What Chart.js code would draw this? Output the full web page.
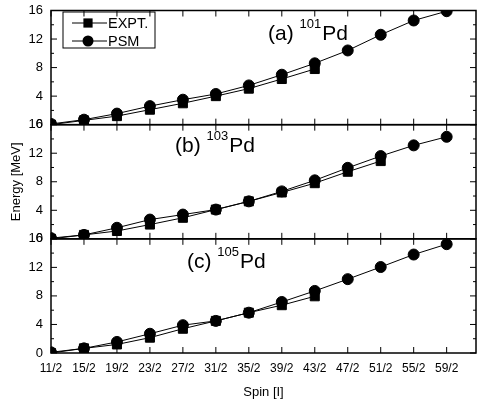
<!DOCTYPE html>
<html>
<head>
<meta charset="utf-8">
<script src="https://cdn.jsdelivr.net/npm/chart.js@4.4.1/dist/chart.umd.min.js"></script>
<style>
  html, body { margin: 0; padding: 0; background: #fff; }
  #wrap { width: 478px; height: 400px; }
</style>
</head>
<body>
<div id="wrap"><canvas id="chart"></canvas></div>
<script>
// spin values on the x axis
const spinLabels = ['11/2', '15/2', '19/2', '23/2', '27/2', '31/2', '35/2',
  '39/2', '43/2', '47/2', '51/2', '55/2', '59/2'];

// energies in MeV
const exptA = [0, 0.6, 1.2, 2.1, 3.0, 4.0, 5.05, 6.4, 7.8];
const psmA = [0.1, 0.7, 1.55, 2.6, 3.5, 4.3, 5.5, 7.0, 8.6, 10.4, 12.6, 14.6, 15.9];
const exptB = [0, 0.55, 1.1, 2.0, 2.95, 4.1, 5.25, 6.5, 7.8, 9.4, 10.9];
const psmB = [0.1, 0.55, 1.55, 2.7, 3.4, 4.1, 5.25, 6.65, 8.2, 9.95, 11.6, 13.1, 14.3];
const exptC = [0, 0.65, 1.2, 2.15, 3.4, 4.5, 5.65, 6.7, 7.95];
const psmC = [0.1, 0.65, 1.55, 2.7, 3.9, 4.5, 5.65, 7.15, 8.7, 10.35, 12.05, 13.8, 15.25];

const energyTicks = [0, 4, 8, 12, 16];

const FONT = '"Liberation Sans", Arial, sans-serif';

// panel captions: letter, mass number, text position inside the panel
const panels = [
  { axis: 'ya', tag: '(a) ', mass: '101', dx: 217, base: 29.5 },
  { axis: 'yb', tag: '(b) ', mass: '103', dx: 124, base: 27.5 },
  { axis: 'yc', tag: '(c) ', mass: '105', dx: 136, base: 29 }
];

const toPts = arr => arr.map((v, i) => ({ x: i, y: v }));

const exptStyle = { pointStyle: 'rect', pointRadius: 6.4, borderColor: '#000', backgroundColor: '#000', borderWidth: 1, pointBorderWidth: 1 };
const psmStyle = { pointStyle: 'circle', pointRadius: 5.5, borderColor: '#000', backgroundColor: '#000', borderWidth: 1, pointBorderWidth: 1 };

// frames, inward ticks, captions and legend box
const framePlugin = {
  id: 'frames',
  afterDatasetsDraw(chart) {
    const { ctx, chartArea, scales } = chart;
    const xs = scales.x;
    const L = chartArea.left, R = chartArea.right;
    ctx.save();
    ctx.strokeStyle = '#000';
    ctx.fillStyle = '#000';
    panels.forEach(p => {
      const ys = scales[p.axis];
      ctx.lineWidth = 1.5;
      ctx.strokeRect(L, ys.top, R - L, ys.bottom - ys.top);
      ctx.lineWidth = 1;
      ctx.beginPath();
      for (let v = 0; v <= 16; v += 2) {
        const py = ys.getPixelForValue(v);
        const len = v % 4 === 0 ? 6 : 3;
        ctx.moveTo(L, py); ctx.lineTo(L + len, py);
        ctx.moveTo(R, py); ctx.lineTo(R - len, py);
      }
      spinLabels.forEach((s, i) => {
        const px = xs.getPixelForValue(i);
        ctx.moveTo(px, ys.top); ctx.lineTo(px, ys.top + 6);
        ctx.moveTo(px, ys.bottom); ctx.lineTo(px, ys.bottom - 6);
      });
      ctx.stroke();

      // caption like "(a) 101Pd"
      let tx = L + p.dx;
      const by = ys.top + p.base;
      ctx.textBaseline = 'alphabetic';
      ctx.textAlign = 'left';
      ctx.font = '21px ' + FONT;
      ctx.fillText(p.tag, tx, by);
      tx += ctx.measureText(p.tag).width;
      ctx.font = '13px ' + FONT;
      ctx.fillText(p.mass, tx, by - 12);
      tx += ctx.measureText(p.mass).width + 1;
      ctx.font = '21px ' + FONT;
      ctx.fillText('Pd', tx, by);
    });

    // legend box in the top panel
    const top = scales.ya.top;
    const bx = L + 12, bt = top + 1.5;
    ctx.lineWidth = 1;
    ctx.strokeRect(bx, bt, 92, 36);
    const rows = [
      { text: 'EXPT.', style: 'rect', y: bt + 11 },
      { text: 'PSM', style: 'circle', y: bt + 29 }
    ];
    ctx.font = '14.5px ' + FONT;
    ctx.textBaseline = 'middle';
    rows.forEach(r => {
      ctx.beginPath();
      ctx.moveTo(bx + 9, r.y); ctx.lineTo(bx + 44, r.y);
      ctx.stroke();
      const cx = bx + 25;
      if (r.style === 'rect') {
        ctx.fillRect(cx - 4.6, r.y - 4.6, 9.2, 9.2);
      } else {
        ctx.beginPath();
        ctx.arc(cx, r.y, 5.5, 0, Math.PI * 2);
        ctx.fill();
      }
      ctx.fillText(r.text, bx + 45, r.y + 1);
    });
    ctx.restore();
  }
};

const yAxis = (extra) => Object.assign({
  type: 'linear',
  position: 'left',
  stack: 'energy',
  min: 0,
  max: 16,
  afterBuildTicks: s => { s.ticks = energyTicks.map(v => ({ value: v })); },
  afterFit: s => { s.paddingTop = 0; s.paddingBottom = 0; s.width = 46; },
  grid: { display: false, drawTicks: false },
  border: { display: false },
  ticks: { color: '#000', padding: 8, autoSkip: false, font: { family: FONT, size: 13 } }
}, extra);

new Chart(document.getElementById('chart'), {
  type: 'line',
  data: {
    datasets: [
      Object.assign({ label: 'EXPT.', data: toPts(exptA), yAxisID: 'ya' }, exptStyle),
      Object.assign({ label: 'PSM', data: toPts(psmA), yAxisID: 'ya' }, psmStyle),
      Object.assign({ label: 'EXPT.', data: toPts(exptB), yAxisID: 'yb' }, exptStyle),
      Object.assign({ label: 'PSM', data: toPts(psmB), yAxisID: 'yb' }, psmStyle),
      Object.assign({ label: 'EXPT.', data: toPts(exptC), yAxisID: 'yc' }, exptStyle),
      Object.assign({ label: 'PSM', data: toPts(psmC), yAxisID: 'yc' }, psmStyle)
    ]
  },
  options: {
    responsive: true,
    maintainAspectRatio: false,
    animation: false,
    layout: { autoPadding: false, padding: { left: 5, right: 2, top: 10.5, bottom: 0 } },
    plugins: { legend: { display: false }, tooltip: { enabled: false } },
    elements: { line: { tension: 0 } },
    scales: {
      x: {
        type: 'linear',
        min: 0,
        max: 12.89,
        afterBuildTicks: s => { s.ticks = spinLabels.map((l, i) => ({ value: i })); },
        afterFit: s => { s.paddingLeft = 0; s.paddingRight = 0; },
        grid: { display: false, drawTicks: false },
        border: { display: false },
        ticks: {
          color: '#000', padding: 8, maxRotation: 0, autoSkip: false,
          font: { family: FONT, size: 12 },
          callback: v => spinLabels[v]
        },
        title: { display: true, text: 'Spin [I]', color: '#000', padding: { top: 1, bottom: 0 }, font: { family: FONT, size: 13 } }
      },
      yc: yAxis({}),
      yb: yAxis({ title: { display: true, text: 'Energy [MeV]', color: '#000', padding: 4, font: { family: FONT, size: 13 } } }),
      ya: yAxis({})
    }
  },
  plugins: [framePlugin]
});
</script>
</body>
</html>
